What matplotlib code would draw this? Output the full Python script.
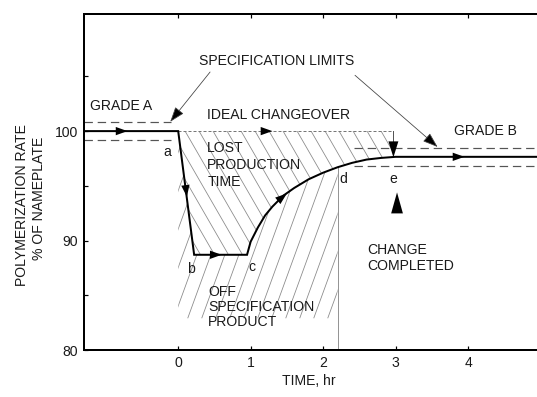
import numpy as np
import matplotlib
matplotlib.use("Agg")
import matplotlib.pyplot as plt
from matplotlib.patches import Polygon
from matplotlib.lines import Line2D

plt.rcParams['font.family'] = ['Liberation Sans', 'DejaVu Sans']

# ---------------- data ----------------
actual_t = [-1.3, 0.0, 0.22, 0.95, 1.0, 1.1, 1.2, 1.3, 1.45, 1.6, 1.8, 2.0, 2.2, 2.4, 2.6, 2.8, 3.0, 5.1]
actual_y = [100, 100, 88.7, 88.7, 89.9, 91.2, 92.3, 93.1, 94.1, 94.8, 95.6, 96.2, 96.7, 97.1, 97.4, 97.55, 97.65, 97.65]
ideal_t = [0.0, 2.97]
ideal_y = [100, 100]
gradeA_t = [-1.3, -0.1]
gradeA_limits = [100.8, 99.2]
gradeB_t = [2.42, 5.1]
gradeB_limits = [98.45, 96.85]
offspec_end = 2.2
change_done = 2.97
xticks = [0, 1, 2, 3, 4, 5]
yticks = [80, 90, 100]
yminor = [85, 95, 105]
xlim = (-1.3, 5.0)
ylim = (80, 110.7)

W, H = 537, 397
fig = plt.figure(figsize=(W / 72, H / 72), dpi=72)
ax_l, ax_r, ax_t, ax_b = 84, 540.5, 14, 350
ax = fig.add_axes([ax_l / W, 1 - ax_b / H, (ax_r - ax_l) / W, (ax_b - ax_t) / H])
ax.set_xlim(*xlim)
ax.set_ylim(*ylim)
sx = (ax_r - ax_l) / (xlim[1] - xlim[0])
sy = (ax_b - ax_t) / (ylim[1] - ylim[0])

def curve(t):
    return np.interp(t, actual_t, actual_y)

def hatch(verts, angle, spacing_px, color='#8a8a8a', lw=0.8):
    poly = Polygon(verts, closed=True, fill=False, edgecolor='none', transform=ax.transData)
    ax.add_patch(poly)
    a = np.deg2rad(angle)
    dx, dy = np.cos(a) / sx, np.sin(a) / sy
    vx = np.array([v[0] for v in verts]); vy = np.array([v[1] for v in verts])
    ymid = vy.mean()
    L = 100
    span = (vy.max() - vy.min()) * sy / abs(np.tan(a)) / sx
    start = vx.min() - span - 1
    stop = vx.max() + span + 1
    for x0 in np.arange(start, stop, spacing_px / sx):
        ln = Line2D([x0 - L * dx, x0 + L * dx], [ymid - L * dy, ymid + L * dy],
                    color=color, lw=lw, zorder=1)
        ln.set_clip_path(poly)
        ax.add_line(ln)

# lost production region (between ideal and actual)
sel = [(t, y) for t, y in zip(actual_t, actual_y) if 0 <= t <= change_done]
lost = [(0, 100), (change_done, 100), (change_done, curve(change_done))] + sel[::-1]
hatch(lost, -60, 14)

# off spec region (below actual curve, 0..2.2)
sel2 = [(t, y) for t, y in zip(actual_t, actual_y) if 0 <= t <= offspec_end]
off = [(0, ylim[0]), (offspec_end, ylim[0])] + sel2[::-1]
hatch(off, 70, 14)
ax.plot([offspec_end, offspec_end], [ylim[0], curve(offspec_end)], color='#8a8a8a', lw=0.9, zorder=1)

# spec limits
for v in gradeA_limits:
    ax.plot(gradeA_t, [v, v], color='#555555', lw=1.2, dashes=(7, 4), zorder=2)
for v in gradeB_limits:
    ax.plot(gradeB_t, [v, v], color='#555555', lw=1.2, dashes=(7, 4), zorder=2)

# ideal changeover
ax.plot(ideal_t, ideal_y, color='#777777', lw=1.0, dashes=(3, 2), zorder=2)
ax.plot([change_done, change_done], [100, 98.6], color='#555555', lw=1.0, zorder=2)

# actual
ax.plot(actual_t, actual_y, color='black', lw=2.0, zorder=4, solid_joinstyle='miter')

def head(x, y, ux, uy, size=13, hl=0.9, hw=0.32):
    d = np.hypot(ux * sx, uy * sy)
    ux, uy = ux / d, uy / d
    ax.annotate('', xy=(x, y), xytext=(x - ux * 2, y - uy * 2),
                arrowprops=dict(arrowstyle=f'-|>,head_length={hl},head_width={hw}',
                                mutation_scale=size, fc='black', ec='black', lw=0,
                                shrinkA=0, shrinkB=0), zorder=5)

head(-0.7, 100, 1, 0)
head(0.12, 94.0, 0.22, -11.3)
head(0.6, 88.7, 1, 0)
head(1.5, 94.3, 0.15, 0.8)
head(1.3, 100, 1, 0)
head(3.95, 97.65, 1, 0)
head(change_done, 97.6, 0, -1, size=16, hl=1.0, hw=0.31)
head(3.02, 94.4, 0, 1, size=21, hl=1.0, hw=0.28)

# spec limit pointers
for (x0, y0), (x1, y1) in [((0.44, 105.4), (-0.11, 100.85)), ((2.44, 105.1), (3.58, 98.55))]:
    ax.annotate('', xy=(x1, y1), xytext=(x0, y0),
                arrowprops=dict(arrowstyle='-|>,head_length=1.0,head_width=0.35', mutation_scale=13,
                                fc='black', ec='#444444', lw=0.8, shrinkA=0, shrinkB=0), zorder=5)

fs = 14
txt = dict(fontsize=fs, color='#1a1a1a', va='center', ha='left')
ax.text(-1.215, 102.3, 'GRADE A', **txt)
ax.text(0.29, 106.4, 'SPECIFICATION LIMITS', **txt)
ax.text(0.40, 101.46, 'IDEAL CHANGEOVER', **txt)
ax.text(3.80, 100.0, 'GRADE B', **txt)
for s, y in zip(['LOST', 'PRODUCTION', 'TIME'], [98.45, 96.9, 95.35]):
    ax.text(0.40, y, s, **txt)
for s, y in zip(['OFF', 'SPECIFICATION', 'PRODUCT'], [85.3, 83.93, 82.6]):
    ax.text(0.41, y, s, **txt)
for s, y in zip(['CHANGE', 'COMPLETED'], [89.13, 87.67]):
    ax.text(2.61, y, s, **txt)
lab = dict(fontsize=fs, color='#1a1a1a', va='center', ha='center')
for s, x, y in [('a', -0.15, 98.1), ('b', 0.18, 87.4), ('c', 1.02, 87.6), ('d', 2.28, 95.6), ('e', 2.97, 95.6)]:
    ax.text(x, y, s, **lab)

# axes styling
ax.set_xticks(xticks)
ax.set_yticks(yticks)
ax.set_yticks(yminor, minor=True)
for sp in ax.spines.values():
    sp.set_linewidth(2.0)
ax.tick_params(which='both', direction='in', top=True, right=True, length=4, width=1.2,
               labelsize=fs, pad=6, colors='black', labelcolor='#1a1a1a')

fig.text(309 / W, 1 - 381 / H, 'TIME, hr', fontsize=fs, ha='center', va='center', color='#1a1a1a')
fig.text(22 / W, 1 - 205 / H, 'POLYMERIZATION RATE', fontsize=fs, rotation=90, ha='center', va='center', color='#1a1a1a')
fig.text(39 / W, 1 - 198 / H, '% OF NAMEPLATE', fontsize=fs, rotation=90, ha='center', va='center', color='#1a1a1a')

fig.savefig('out.png', dpi=72)
